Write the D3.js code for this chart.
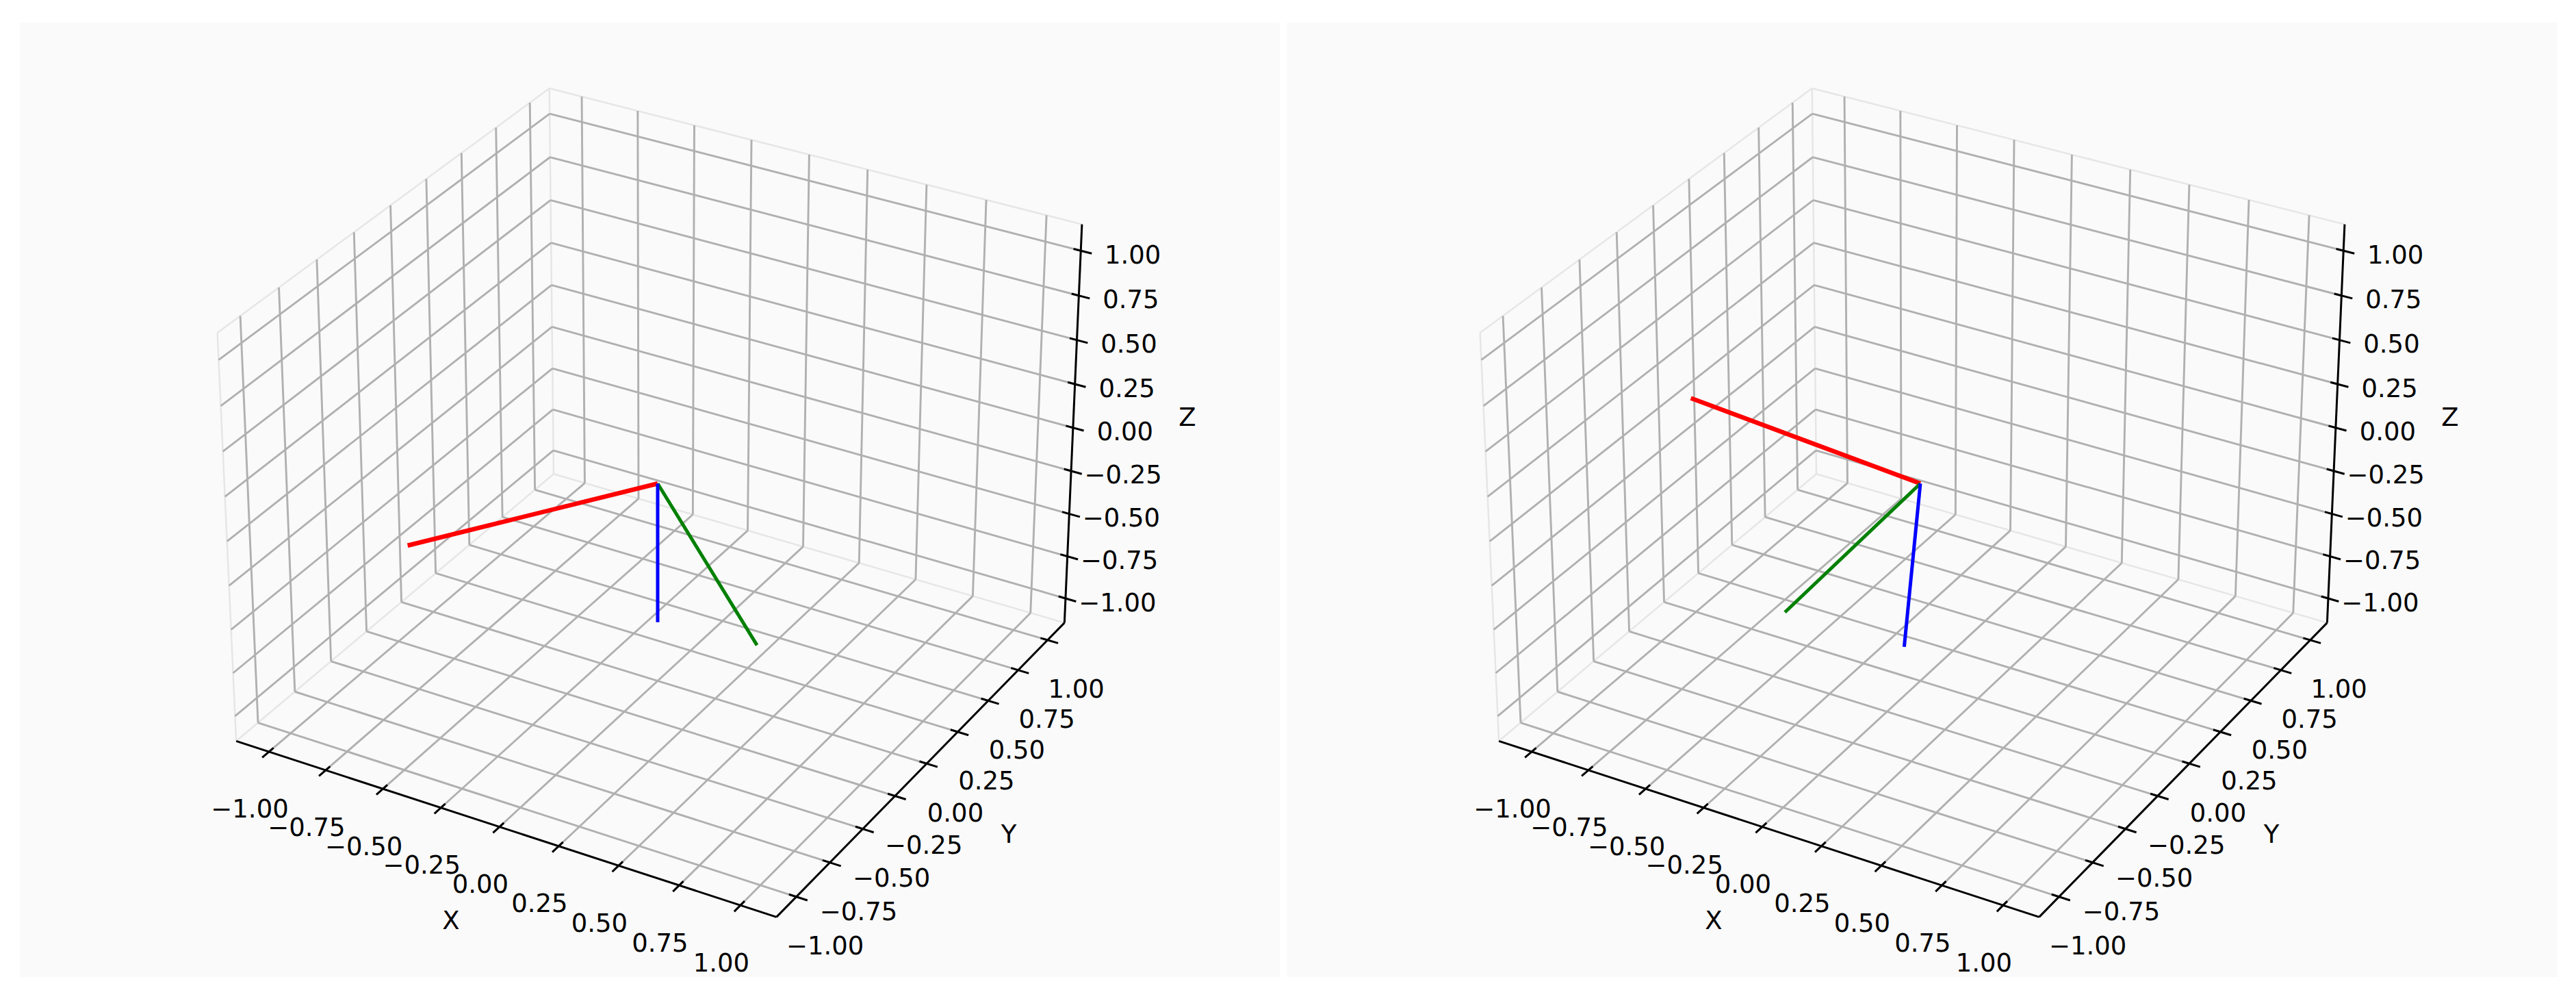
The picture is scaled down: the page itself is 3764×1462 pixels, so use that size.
<!DOCTYPE html>
<html><head><meta charset="utf-8">
<script src="https://cdn.jsdelivr.net/npm/d3@7/dist/d3.min.js"></script>
<style>html,body{margin:0;padding:0;background:#fff;}svg{display:block;}</style>
</head><body>
<script>
// ---- data ----
const tickValues = [-1, -0.75, -0.5, -0.25, 0, 0.25, 0.5, 0.75, 1];
const tickLabels = ["−1.00","−0.75","−0.50","−0.25","0.00","0.25","0.50","0.75","1.00"];
const axisNames = ["X", "Y", "Z"];
const frameOrigin = [0, 0, 0];
const leftRed = [-0.7, -0.63, -0.2];
const leftGreen = [0.52, -0.17, -0.6];
const leftBlue = [0, 0, -0.8];
const rightRed = [-1.0, 0.0, 0.11];
const rightGreen = [0.02, -1.0, -0.03];
const rightBlue = [-0.05, -0.035, -0.94];
const lineColors = ["red", "green", "blue"];

const W = 3764, H = 1462;
const svg = d3.select("body").append("svg").attr("width", W).attr("height", H);
const FONT = "DejaVu Sans, sans-serif";
const FS = 37;

const lim = 1.1 * (1 + 2 / 48);
const aspect0 = [4, 4, 3];
const nrm = Math.hypot(...aspect0);
const aspect = aspect0.map(a => a * 1.8294640721620434 / nrm);
const scales = aspect.map(a => d3.scaleLinear().domain([-lim, lim]).range([0, a]));
const elev = 30 * Math.PI / 180, azim = -60 * Math.PI / 180, dist = 10;
const R = aspect.map(a => a / 2);
const ps = [Math.cos(elev) * Math.cos(azim), Math.cos(elev) * Math.sin(azim), Math.sin(elev)];
const eye = R.map((r, i) => r + dist * ps[i]);
const cross = (a, b) => [a[1]*b[2]-a[2]*b[1], a[2]*b[0]-a[0]*b[2], a[0]*b[1]-a[1]*b[0]];
const dot = (a, b) => a[0]*b[0] + a[1]*b[1] + a[2]*b[2];
const norm = a => { const n = Math.hypot(...a); return a.map(v => v / n); };
const wv = norm(ps);
const uv = norm(cross([0, 0, 1], wv));
const vv = cross(wv, uv);
function proj2(p) {
  const P = p.map((c, i) => scales[i](c));
  const d = P.map((c, i) => c - eye[i]);
  const zv = dot(wv, d);
  return [dot(uv, d) / -zv, dot(vv, d) / -zv];
}
const L = -lim, Hh = lim;
const anchors = [
  [[L, L, L], [345, 1082]],
  [[Hh, L, L], [1135, 1340]],
  [[Hh, Hh, L], [1554, 909]],
  [[Hh, Hh, Hh], [1582, 328]]
];
function fit(idx) {
  const xs = anchors.map(a => proj2(a[0])[idx]), ys = anchors.map(a => a[1][idx]);
  const mx = d3.mean(xs), my = d3.mean(ys);
  let sxy = 0, sxx = 0;
  xs.forEach((x, i) => { sxy += (x - mx) * (ys[i] - my); sxx += (x - mx) * (x - mx); });
  const a = sxy / sxx; return [a, my - a * mx];
}
const fx = fit(0), fy = fit(1);

function drawPanel(g, red, green, blue) {
  const P = p => { const q = proj2(p); return [fx[0] * q[0] + fx[1], fy[0] * q[1] + fy[1]]; };
  const line = d3.line();
  const seg = (a, b, color, w) => g.append("path").attr("d", line([P(a), P(b)]))
    .attr("stroke", color).attr("stroke-width", w).attr("fill", "none").attr("stroke-linecap", "butt");
  const paneEdge = "#e6e6e6";
  seg([L, Hh, L], [L, Hh, Hh], paneEdge, 2.5);
  seg([L, Hh, Hh], [Hh, Hh, Hh], paneEdge, 2.5);
  seg([L, L, Hh], [L, Hh, Hh], paneEdge, 2.5);
  seg([L, L, L], [L, L, Hh], paneEdge, 2.5);
  seg([L, Hh, L], [Hh, Hh, L], paneEdge, 2.5);
  seg([L, L, L], [L, Hh, L], paneEdge, 2.5);
  const gc = "#b0b0b0", gw = 2.9;
  tickValues.forEach(t => {
    seg([t, L, L], [t, Hh, L], gc, gw);
    seg([L, t, L], [Hh, t, L], gc, gw);
    seg([L, t, L], [L, t, Hh], gc, gw);
    seg([L, L, t], [L, Hh, t], gc, gw);
    seg([t, Hh, L], [t, Hh, Hh], gc, gw);
    seg([L, Hh, t], [Hh, Hh, t], gc, gw);
  });
  seg([L, L, L], [Hh, L, L], "#000", 3);
  seg([Hh, L, L], [Hh, Hh, L], "#000", 3);
  seg([Hh, Hh, L], [Hh, Hh, Hh], "#000", 3);
  const tin = 0.03, tout = 0.045;
  const txt = (xy, s, dx, dy) => g.append("text").attr("x", xy[0] + dx).attr("y", xy[1] + dy)
    .attr("text-anchor", "middle").attr("dominant-baseline", "central")
    .attr("font-family", FONT).attr("font-size", FS).attr("fill", "#000").text(s);
  tickValues.forEach((t, i) => {
    seg([t, L + tin, L], [t, L - tout, L], "#000", 3);
    txt(P([t, L, L]), tickLabels[i], -28, 84);
    seg([Hh - tin, t, L], [Hh + tout, t, L], "#000", 3);
    txt(P([Hh, t, L]), tickLabels[i], 42, 72);
    seg([Hh - tin, Hh, t], [Hh + tout, Hh, t], "#000", 3);
    txt(P([Hh, Hh, t]), tickLabels[i], 76, 6);
  });
  const mX = P([0, L, L]), mY = P([Hh, 0, L]), mZ = P([Hh, Hh, 0]);
  txt(mX, axisNames[0], -71, 137);
  txt(mY, axisNames[1], 120, 103);
  txt(mZ, axisNames[2], 167, -15);
  [red, green, blue].forEach((v, i) => seg(frameOrigin, v, lineColors[i], i === 0 ? 6.5 : 5));
}

svg.append("rect").attr("x", 29).attr("y", 33).attr("width", 1841).attr("height", 1394).attr("fill", "#fafafa");
svg.append("rect").attr("x", 1880).attr("y", 33).attr("width", 1857).attr("height", 1394).attr("fill", "#fafafa");
drawPanel(svg.append("g"), leftRed, leftGreen, leftBlue);
drawPanel(svg.append("g").attr("transform", "translate(1845,0)"), rightRed, rightGreen, rightBlue);
</script>
</body></html>
